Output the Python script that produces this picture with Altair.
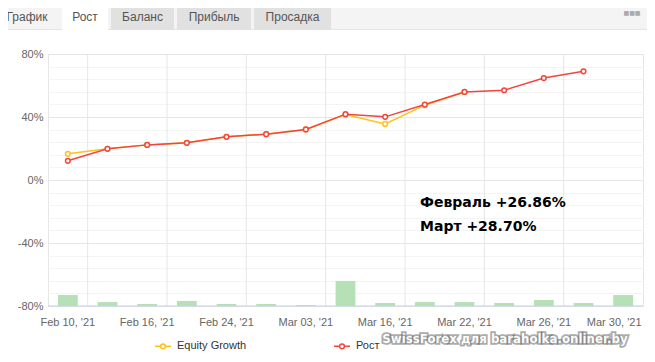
import altair as alt
import pandas as pd

# ---------------- data ----------------
cats = ["Feb 10, '21", "Feb 12, '21", "Feb 16, '21", "Feb 19, '21", "Feb 24, '21",
        "Feb 26, '21", "Mar 03, '21", "Mar 09, '21", "Mar 16, '21", "Mar 18, '21",
        "Mar 22, '21", "Mar 24, '21", "Mar 26, '21", "Mar 28, '21", "Mar 30, '21"]
growth = [12.2, 19.8, 22.3, 23.6, 27.4, 29.1, 32.1, 41.8, 40.1, 47.9, 55.9, 57.0, 64.7, 69.0, None]
equity = [16.6, 19.8, 22.3, 23.6, 27.4, 29.1, 32.1, 41.6, 35.6, 47.5, 55.9, None, None, None, None]
bars = [7.0, 2.5, 1.3, 3.2, 1.3, 1.3, 0.6, 15.9, 1.9, 2.5, 2.5, 1.9, 3.8, 1.9, 7.0]
series_names = ["Equity Growth", "Рост"]
tab_labels = ["График", "Рост", "Баланс", "Прибыль", "Просадка"]
note_lines = ["Февраль +26.86%", "Март +28.70%"]
watermark = "SwissForex для baraholka.onliner.by"

# ---------------- tables ----------------
rows = []
for name, vals in zip(series_names, [equity, growth]):
    for c, v in zip(cats, vals):
        if v is not None:
            rows.append({"date": c, "series": name, "value": v})
lines_df = pd.DataFrame(rows)
bars_df = pd.DataFrame({"date": cats, "bar": bars})
grid_df = pd.DataFrame({"date": cats[1:14:2]})
one = pd.DataFrame({"k": [0]})

YELLOW = "#ffc21a"
RED = "#f2453d"
GREEN = "#b6e1b6"
GRID = "#e6e6e6"
MINOR = "#f4f4f4"
FONT = "Liberation Sans"
W, H = 595, 252
STEP = W / len(cats)

xscale = alt.Scale(domain=cats, type="band", paddingInner=0.5, paddingOuter=0.25)
xaxis = alt.Axis(values=cats[0::2], labelAngle=0, ticks=False, domain=False, grid=False,
                 labelPadding=10, labelFont=FONT, labelFontSize=11, labelColor="#666",
                 title=None, labelOverlap=False,
                 labelOffset={"condition": {"test": "indexof(datum.value, 'Mar 30') >= 0", "value": -9},
                              "value": 0})
yscale = alt.Scale(domain=[-80, 80], nice=False, zero=False)
yaxis = alt.Axis(values=list(range(-80, 81, 8)), labelExpr="datum.value % 40 == 0 ? datum.value + '%' : ''",
                 ticks=False, domain=False, labelPadding=5, labelFont=FONT, labelFontSize=11,
                 labelColor="#666", title=None, labelOverlap=False,
                 gridColor={"condition": {"test": "datum.value % 40 == 0", "value": GRID}, "value": MINOR})

xdef = alt.X("date:N", scale=xscale, axis=xaxis, sort=cats)
ydef = alt.Y("value:Q", scale=yscale, axis=yaxis)

legend_path = "M-1,0L-0.32,0M0.32,0L1,0M0.3,0A0.3,0.3,0,1,1,-0.3,0A0.3,0.3,0,1,1,0.3,0Z"
cdef = alt.Color("series:N", scale=alt.Scale(domain=series_names, range=[YELLOW, RED]),
                 legend=alt.Legend(title=None, orient="none", legendX=106, legendY=283,
                                   direction="horizontal", columns=2, columnPadding=84,
                                   symbolType=legend_path, symbolSize=256, symbolStrokeWidth=1.5,
                                   symbolFillColor="white", labelFont=FONT, labelFontSize=11,
                                   labelColor="#333", labelOffset=5, padding=0))
sdef = alt.Stroke("series:N", scale=alt.Scale(domain=series_names, range=[YELLOW, RED]), legend=None)

vgrid = alt.Chart(grid_df).mark_rule(color=GRID, strokeWidth=1, xOffset=-STEP / 4).encode(
    x=alt.X("date:N", scale=xscale, axis=xaxis, sort=cats, bandPosition=0),
    y=alt.value(0), y2=alt.value(H))

bar_layer = alt.Chart(bars_df).mark_bar(color=GREEN).transform_calculate(
    value="-80 + datum.bar").encode(x=xdef, y=ydef, y2=alt.datum(-80))

base_rule = alt.Chart(one).mark_rule(color="#c5cfea", strokeWidth=1).encode(
    y=alt.Y("v:Q", scale=yscale, axis=yaxis)).transform_calculate(v="-80")

def series_layers(name):
    src = alt.Chart(lines_df).transform_filter(alt.datum.series == name)
    ln = src.mark_line(strokeWidth=1.5).encode(x=xdef, y=ydef, color=cdef)
    pt = src.mark_point(shape="circle", size=22, strokeWidth=1.5, fill="white", filled=True,
                        opacity=1).encode(x=xdef, y=ydef, stroke=sdef)
    return [ln, pt]

def text_at(txt, x, y, **kw):
    return alt.Chart(one).mark_text(text=txt, **kw).encode(x=alt.value(x), y=alt.value(y))

def rect_at(x, x2, y, y2, color):
    return alt.Chart(one).mark_rect(color=color).encode(
        x=alt.value(x), x2=alt.value(x2), y=alt.value(y), y2=alt.value(y2))

def hline_at(x, x2, y, color):
    return alt.Chart(one).mark_rule(color=color).encode(
        x=alt.value(x), x2=alt.value(x2), y=alt.value(y))

notes = [text_at(t, 372, 149 + 24 * i, align="left", baseline="middle", font="DejaVu Sans",
                 fontSize=14, fontWeight="bold", color="#000") for i, t in enumerate(note_lines)]

wm = [
    text_at(watermark, 457, 285, align="center", baseline="middle", font="DejaVu Sans",
            fontSize=11.8, fontWeight="bold", color="#666", stroke="#555", strokeWidth=3.5,
            strokeOpacity=0.55, opacity=0.9),
    text_at(watermark, 457, 285, align="center", baseline="middle", font="DejaVu Sans",
            fontSize=11.8, fontWeight="bold", color="#ffffff"),
]

# tab strip (plot coords: page x - 48, page y - 54)
tabs = [
    rect_at(-40, 599, -46, -24.5, "#f4f4f4"),
    hline_at(-40, 599, -24.5, "#e4e4e4"),
    rect_at(14, 60, -46, -23.5, "#ffffff"),
    rect_at(63, 126, -46, -24, "#e1e1e1"),
    rect_at(129, 203, -46, -24, "#e1e1e1"),
    rect_at(206, 283, -46, -24, "#e1e1e1"),
]
tab_x = [-21, 37, 94.5, 166, 244.5]
for lbl, tx in zip(tab_labels, tab_x):
    tabs.append(text_at(lbl, tx, -37.5, align="center", baseline="middle", font=FONT,
                        fontSize=12, color="#555"))
tabs.append(text_at("■■■", 584, -41, align="center", baseline="middle", font="DejaVu Sans",
                    fontSize=6, color="#aaa"))

layers = [vgrid, bar_layer, base_rule] + series_layers("Equity Growth") + series_layers("Рост") \
    + notes + wm + tabs

chart = alt.layer(*layers).properties(
    width=W, height=H,
    padding={"left": 40, "top": 46, "right": 4, "bottom": 48},
    autosize=alt.AutoSizeParams(type="none"),
    background="white",
).configure_view(stroke=GRID).configure_axis(gridWidth=1)

chart.save("out.html", embed_options={"renderer": "svg", "actions": False})
